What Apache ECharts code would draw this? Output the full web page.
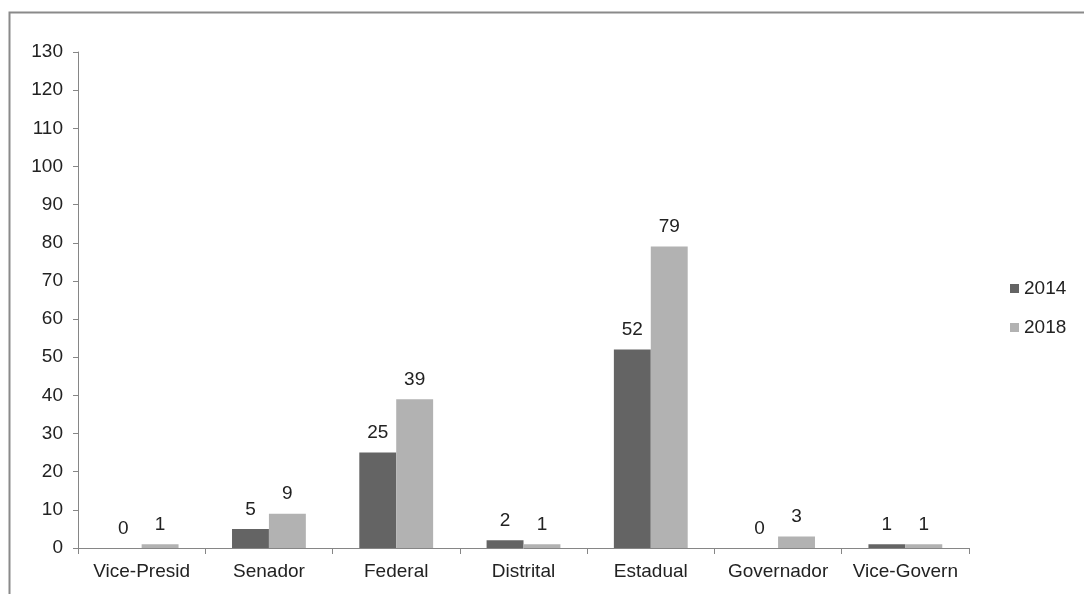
<!DOCTYPE html>
<html>
<head>
<meta charset="utf-8">
<script src="https://cdn.jsdelivr.net/npm/echarts@6/dist/echarts.min.js"></script>
<style>
  html, body { margin: 0; padding: 0; background: #fff; }
  #chart { width: 1084px; height: 594px; }
</style>
</head>
<body>
<div id="chart"></div>
<script>
var categories = ['Vice-Presid', 'Senador', 'Federal', 'Distrital', 'Estadual', 'Governador', 'Vice-Govern'];
var values2014 = [0, 5, 25, 2, 52, 0, 1];
var values2018 = [1, 9, 39, 1, 79, 3, 1];
var yTicks = { min: 0, max: 130, interval: 10 };

var labelStyle = {
    show: true,
    position: 'top',
    distance: 10,
    fontFamily: 'Liberation Sans',
    fontSize: 19,
    color: '#222'
};

var option = {
    animation: false,
    backgroundColor: '#fff',
    textStyle: { fontFamily: 'Liberation Sans' },
    graphic: [
        {
            type: 'rect',
            shape: { x: 9.5, y: 12.5, width: 1100, height: 620 },
            style: { fill: 'none', stroke: '#8a8a8a', lineWidth: 2 },
            silent: true
        }
    ],
    grid: { left: 78, right: 115, top: 52, bottom: 46 },
    legend: {
        orient: 'vertical',
        left: 1005,
        top: 274,
        itemWidth: 9,
        itemHeight: 9,
        itemGap: 20,
        icon: 'rect',
        textStyle: { fontFamily: 'Liberation Sans', fontSize: 19, color: '#222' },
        data: ['2014', '2018']
    },
    xAxis: {
        type: 'category',
        data: categories,
        axisLine: { lineStyle: { color: '#868686' } },
        axisTick: { show: true, length: 6, lineStyle: { color: '#868686' } },
        axisLabel: { fontSize: 19, color: '#222', margin: 14, interval: 0 }
    },
    yAxis: {
        type: 'value',
        min: yTicks.min,
        max: yTicks.max,
        interval: yTicks.interval,
        splitLine: { show: false },
        axisLine: { show: true, lineStyle: { color: '#868686' } },
        axisTick: { show: true, length: 5, lineStyle: { color: '#868686' } },
        axisLabel: { fontSize: 19, color: '#222', margin: 15 }
    },
    series: [
        {
            name: '2014',
            type: 'bar',
            data: values2014,
            barGap: '0%',
            barCategoryGap: '42%',
            itemStyle: { color: '#646464' },
            label: labelStyle
        },
        {
            name: '2018',
            type: 'bar',
            data: values2018,
            barGap: '0%',
            barCategoryGap: '42%',
            itemStyle: { color: '#b2b2b2' },
            label: labelStyle
        }
    ]
};

var myChart = echarts.init(document.getElementById('chart'));
myChart.setOption(option);
</script>
</body>
</html>
